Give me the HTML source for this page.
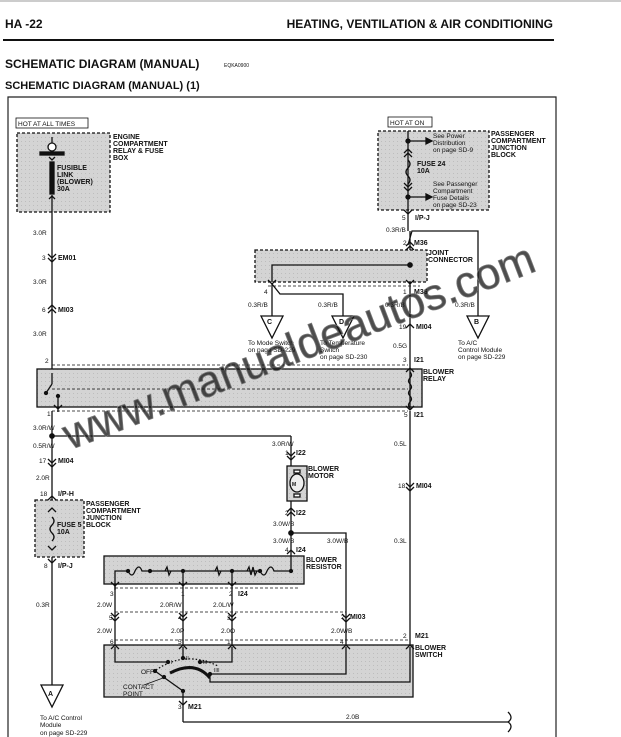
<!DOCTYPE html>
<html><head><meta charset="utf-8"><style>
html,body{margin:0;padding:0;background:#fff;}
svg{display:block;font-family:"Liberation Sans",sans-serif;}
.b{font-weight:bold;}
text{fill:#111;}
</style></head><body>
<svg width="621" height="737" viewBox="0 0 621 737" xmlns="http://www.w3.org/2000/svg">
<defs>
<pattern id="g" width="4" height="4" patternUnits="userSpaceOnUse"><rect width="4" height="4" fill="#d4d4d4"/><rect x="1" y="1" width="1" height="1" fill="#bdbdbd"/></pattern>
</defs>
<!-- header -->
<line x1="0" y1="1" x2="621" y2="1" stroke="#999" stroke-width="1"/>
<text x="5" y="28" font-size="12" class="b">HA -22</text>
<text x="553" y="28" font-size="12" class="b" text-anchor="end">HEATING, VENTILATION &amp; AIR CONDITIONING</text>
<line x1="3" y1="40" x2="554" y2="40" stroke="#111" stroke-width="2"/>
<text x="5" y="68" font-size="12" class="b">SCHEMATIC DIAGRAM (MANUAL)</text>
<text x="224" y="67" font-size="5">EQKA0900</text>
<text x="5" y="89" font-size="11" class="b">SCHEMATIC DIAGRAM (MANUAL) (1)</text>
<!-- frame -->
<polyline points="8,737 8,97 556,97 556,737" fill="none" stroke="#222" stroke-width="1.2"/>

<g stroke="#111" fill="none" stroke-width="1.3">
<!-- Engine box -->
<rect x="17" y="133" width="93" height="79" fill="url(#g)" stroke-dasharray="3,2"/>
<!-- fusible link -->
<line x1="52" y1="137" x2="52" y2="143"/>
<circle cx="52" cy="147" r="4" fill="#fff"/>
<rect x="40" y="152" width="24" height="3" fill="#111"/>
<rect x="50" y="162" width="4" height="32" fill="#111"/>
<polyline points="49,157 52,160 55,157"/>
<polyline points="49,199 52,196 55,199"/>
<!-- left main wire -->
<line x1="52" y1="195" x2="52" y2="372"/>
<polyline points="48,254 52,258 56,254"/><polyline points="48,258 52,262 56,258"/>
<polyline points="48,309 52,305 56,309"/><polyline points="48,313 52,309 56,313"/>
<polyline points="48,375 52,371 56,375"/>
<!-- relay -->
<rect x="37" y="369" width="385" height="38" fill="url(#g)"/>
<line x1="52" y1="365" x2="408" y2="365" stroke-dasharray="3,2" stroke-width="0.8"/>
<line x1="52" y1="389" x2="408" y2="389" stroke-dasharray="3,2" stroke-width="0.8"/>
<line x1="52" y1="411" x2="408" y2="411" stroke-dasharray="3,2" stroke-width="0.8"/>
<line x1="52" y1="373" x2="52" y2="384"/>
<line x1="52" y1="384" x2="46" y2="393"/>
<circle cx="46" cy="393" r="1.5" fill="#111"/>
<circle cx="58" cy="396" r="1.5" fill="#111"/>
<line x1="58" y1="396" x2="58" y2="412"/>
<polyline points="54,405 58,409 62,405"/>
<path d="M410 372 q3 3 0 6 q-3 3 0 6 q3 3 0 6 q-3 3 0 6 q3 3 0 6 q-3 3 0 6" />
<polyline points="406,372 410,368 414,372"/><polyline points="406,406 410,410 414,406"/>
<!-- lower left -->
<line x1="52" y1="411" x2="52" y2="690"/>
<line x1="52" y1="436" x2="291" y2="436"/>
<polyline points="48,459 52,463 56,459"/><polyline points="48,463 52,467 56,463"/>
<rect x="35" y="500" width="49" height="57" fill="url(#g)" stroke-dasharray="3,2"/>
<polyline points="48,500 52,496 56,500"/>
<path d="M52 517 q4 4 0 8 q-4 4 0 8 q4 4 0 8" fill="#d4d4d4"/>
<polyline points="48,512 52,508 56,512"/><polyline points="48,546 52,550 56,546"/>
<polyline points="48,559 52,563 56,559"/>
<polygon points="41,685 63,685 52,707" fill="#fff"/>
<!-- right top -->
<rect x="378" y="131" width="111" height="79" fill="url(#g)" stroke-dasharray="3,2"/>
<line x1="408" y1="131" x2="408" y2="231"/>
<line x1="408" y1="141" x2="426" y2="141"/><polygon points="426,138 432,141 426,144" fill="#111"/>
<line x1="408" y1="197" x2="426" y2="197"/><polygon points="426,194 432,197 426,200" fill="#111"/>
<polyline points="404,153 408,149 412,153"/><polyline points="404,157 408,153 412,157"/>
<path d="M408 160 q4 4 0 8 q-4 4 0 8 q4 4 0 8" />
<polyline points="404,183 408,187 412,183"/><polyline points="404,187 408,191 412,187"/>
<polyline points="404,210 408,214 412,210"/>
<polyline points="408,245 412,231 478,231 478,318"/>
<line x1="410" y1="231" x2="410" y2="410"/>
<polyline points="406,246 410,242 414,246"/><polyline points="406,250 410,246 414,250"/>
<rect x="255" y="250" width="172" height="32" fill="url(#g)" stroke-dasharray="3,2"/>
<polyline points="410,265 272,265 272,282"/>
<polyline points="268,280 272,284 276,280"/>
<polyline points="406,280 410,284 414,280"/>
<line x1="272" y1="284" x2="272" y2="316"/>
<polyline points="272,284 280,294 343,294 343,316"/>
<line x1="268" y1="286" x2="420" y2="286" stroke-dasharray="3,2" stroke-width="0.8"/>
<polygon points="261,316 283,316 272,338" fill="#fff"/>
<polygon points="332,316 354,316 343,338" fill="#fff"/>
<polygon points="467,316 489,316 478,338" fill="#fff"/>
<polyline points="406,328 410,324 414,328"/>
<!-- right down -->
<line x1="410" y1="411" x2="410" y2="647"/>
<polyline points="406,483 410,487 414,483"/><polyline points="406,487 410,491 414,487"/>
<!-- motor -->
<line x1="291" y1="436" x2="291" y2="466"/>
<polyline points="287,452 291,456 295,452"/><polyline points="287,456 291,460 295,456"/>
<rect x="287" y="466" width="20" height="35" fill="url(#g)"/>
<rect x="294" y="470" width="6" height="3" fill="#fff"/><rect x="294" y="494" width="6" height="3" fill="#fff"/>
<ellipse cx="297" cy="483" rx="7" ry="9" fill="#eee"/>
<line x1="291" y1="501" x2="291" y2="556"/>
<polyline points="287,512 291,508 295,512"/><polyline points="287,516 291,512 295,516"/>
<polyline points="291,533 346,533 346,647"/>
<polyline points="287,554 291,550 295,554"/>
<polyline points="342,614 346,618 350,614"/><polyline points="342,618 346,622 350,618"/>
<!-- resistor -->
<rect x="104" y="556" width="200" height="28" fill="url(#g)"/>
<path d="M291 556 L291 571 L274 571 q-3 -8 -7 0 q-3 8 -7 0 L247 571 l2 -4 l2 8 l2 -8 l2 8 l2 -4 L232 571 L215 571 l2 -4 l2 8 l2 -4 L200 571 L183 571 L165 571 l2 -4 l2 8 l2 -4 L150 571 L142 571 q-3 -8 -7 0 q-3 8 -7 0 L115 571 L115 590"/>
<g fill="#111"><circle cx="128" cy="571" r="1.5"/><circle cx="150" cy="571" r="1.5"/><circle cx="183" cy="571" r="1.5"/><circle cx="232" cy="571" r="1.5"/><circle cx="260" cy="571" r="1.5"/><circle cx="291" cy="571" r="1.5"/><circle cx="291" cy="533" r="2.2"/><circle cx="52" cy="436" r="2.2"/><circle cx="408" cy="141" r="2"/><circle cx="408" cy="197" r="2"/><circle cx="410" cy="265" r="2.2"/></g>
<line x1="183" y1="571" x2="183" y2="647"/>
<line x1="232" y1="571" x2="232" y2="647"/>
<line x1="115" y1="584" x2="115" y2="647"/>
<g stroke-width="0.8" stroke-dasharray="3,2"><line x1="115" y1="588" x2="300" y2="588"/><line x1="115" y1="612" x2="346" y2="612"/><line x1="115" y1="640" x2="410" y2="640"/></g>
<polyline points="111,582 115,586 119,582"/><polyline points="179,582 183,586 187,582"/><polyline points="228,582 232,586 236,582"/>
<polyline points="111,613 115,617 119,613"/><polyline points="111,617 115,621 119,617"/>
<polyline points="179,613 183,617 187,613"/><polyline points="179,617 183,621 187,617"/>
<polyline points="228,613 232,617 236,613"/><polyline points="228,617 232,621 236,617"/>
<!-- switch -->
<rect x="104" y="645" width="309" height="52" fill="url(#g)"/>
<polyline points="111,649 115,645 119,649"/><polyline points="179,649 183,645 187,649"/><polyline points="228,649 232,645 236,649"/><polyline points="342,649 346,645 350,649"/><polyline points="406,649 410,645 414,649"/>
<polyline points="115,647 115,662 168,662"/>
<polyline points="183,647 183,658"/>
<polyline points="232,647 232,662 200,662"/>
<polyline points="346,647 346,674 210,674"/>
<polyline points="410,647 410,682 210,682 210,678"/>
<path d="M156 670 Q185 650 218 666" stroke-dasharray="1.5,2"/>
<path d="M170 673 Q195 660 210 678" stroke-width="3"/>
<line x1="155" y1="671" x2="183" y2="691"/>
<line x1="183" y1="691" x2="183" y2="722"/>
<line x1="183" y1="722" x2="508" y2="722"/>
<path d="M508 722 q6 -4 0 -10 M508 722 q6 4 0 10"/>
<polyline points="179,701 183,705 187,701"/>
<g fill="#111"><circle cx="168" cy="662" r="1.5"/><circle cx="183" cy="658" r="1.5"/><circle cx="200" cy="662" r="1.5"/><circle cx="210" cy="674" r="1.5"/><circle cx="155" cy="671" r="1.5"/><circle cx="164" cy="677" r="1.5"/><circle cx="183" cy="691" r="1.5"/></g>
<line x1="144" y1="685" x2="163" y2="678" stroke-width="0.8"/>
<!-- hot boxes -->
<rect x="16" y="118" width="72" height="10" fill="#fff" stroke-width="0.8"/>
<rect x="388" y="117" width="44" height="10" fill="#fff" stroke-width="0.8"/>
</g>

<g font-size="6.5">
<text x="18" y="126">HOT AT ALL TIMES</text>
<text x="390" y="125">HOT AT ON</text>
<g class="b" font-size="7">
<text x="113" y="139">ENGINE</text><text x="113" y="146">COMPARTMENT</text><text x="113" y="153">RELAY &amp; FUSE</text><text x="113" y="160">BOX</text>
<text x="57" y="170">FUSIBLE</text><text x="57" y="177">LINK</text><text x="57" y="184">(BLOWER)</text><text x="57" y="191">30A</text>
<text x="491" y="136">PASSENGER</text><text x="491" y="143">COMPARTMENT</text><text x="491" y="150">JUNCTION</text><text x="491" y="157">BLOCK</text>
<text x="417" y="166">FUSE 24</text><text x="417" y="173">10A</text>
<text x="428" y="255">JOINT</text><text x="428" y="262">CONNECTOR</text>
<text x="423" y="374">BLOWER</text><text x="423" y="381">RELAY</text>
<text x="308" y="471">BLOWER</text><text x="308" y="478">MOTOR</text>
<text x="306" y="562">BLOWER</text><text x="306" y="569">RESISTOR</text>
<text x="415" y="650">BLOWER</text><text x="415" y="657">SWITCH</text>
<text x="86" y="506">PASSENGER</text><text x="86" y="513">COMPARTMENT</text><text x="86" y="520">JUNCTION</text><text x="86" y="527">BLOCK</text>
<text x="57" y="527">FUSE 5</text><text x="57" y="534">10A</text>
<text x="58" y="260">EM01</text><text x="58" y="312">MI03</text>
<text x="58" y="463">MI04</text><text x="58" y="496">I/P-H</text><text x="58" y="568">I/P-J</text>
<text x="415" y="220">I/P-J</text><text x="414" y="245">M36</text><text x="414" y="294">M36</text><text x="416" y="329">MI04</text>
<text x="414" y="362">I21</text><text x="414" y="417">I21</text><text x="416" y="488">MI04</text>
<text x="296" y="455">I22</text><text x="296" y="515">I22</text><text x="296" y="552">I24</text>
<text x="238" y="596">I24</text><text x="350" y="619">MI03</text><text x="415" y="638">M21</text><text x="188" y="709">M21</text>
<text x="267" y="324" font-size="7">C</text><text x="339" y="324" font-size="7">D</text><text x="474" y="324" font-size="7">B</text><text x="48" y="696" font-size="7">A</text>
<text x="292" y="486" font-size="5">M</text>
</g>
<text x="33" y="235">3.0R</text><text x="42" y="260">3</text><text x="33" y="284">3.0R</text><text x="42" y="312">6</text><text x="33" y="336">3.0R</text><text x="45" y="363">2</text>
<text x="47" y="416">1</text><text x="33" y="430">3.0R/W</text><text x="33" y="448">0.5R/W</text><text x="39" y="463">17</text><text x="36" y="480">2.0R</text><text x="40" y="496">18</text><text x="44" y="568">8</text><text x="36" y="607">0.3R</text>
<text x="40" y="720">To A/C Control</text><text x="40" y="727">Module</text><text x="40" y="735">on page SD-229</text>
<text x="433" y="138">See Power</text><text x="433" y="145">Distribution</text><text x="433" y="152">on page SD-9</text>
<text x="433" y="186">See Passenger</text><text x="433" y="193">Compartment</text><text x="433" y="200">Fuse Details</text><text x="433" y="207">on page SD-23</text>
<text x="402" y="220">5</text><text x="386" y="232">0.3R/B</text><text x="403" y="245">2</text>
<text x="264" y="294">4</text><text x="403" y="294">1</text>
<text x="248" y="307">0.3R/B</text><text x="318" y="307">0.3R/B</text><text x="385" y="307">0.3R/B</text><text x="455" y="307">0.3R/B</text>
<text x="399" y="329">19</text><text x="393" y="348">0.5G</text><text x="403" y="362">3</text><text x="404" y="417">5</text>
<text x="248" y="345">To Mode Switch</text><text x="248" y="352">on page SD-229</text>
<text x="320" y="345">To Temperature</text><text x="320" y="352">Switch</text><text x="320" y="359">on page SD-230</text>
<text x="458" y="345">To A/C</text><text x="458" y="352">Control Module</text><text x="458" y="359">on page SD-229</text>
<text x="394" y="446">0.5L</text><text x="398" y="488">18</text><text x="394" y="543">0.3L</text><text x="403" y="638">2</text>
<text x="272" y="446">3.0R/W</text><text x="285" y="455">1</text><text x="285" y="515">2</text>
<text x="273" y="526">3.0W/B</text><text x="273" y="543">3.0W/B</text><text x="327" y="543">3.0W/B</text><text x="285" y="552">4</text>
<text x="110" y="596">3</text><text x="181" y="596">1</text><text x="229" y="596">2</text>
<text x="97" y="607">2.0W</text><text x="160" y="607">2.0R/W</text><text x="213" y="607">2.0L/W</text>
<text x="109" y="620">5</text><text x="178" y="620">4</text><text x="227" y="620">3</text><text x="341" y="619">2</text>
<text x="97" y="633">2.0W</text><text x="171" y="633">2.0P</text><text x="221" y="633">2.0O</text><text x="331" y="633">2.0W/B</text>
<text x="110" y="644">6</text><text x="178" y="644">5</text><text x="227" y="644">1</text><text x="340" y="644">4</text>
<text x="171" y="664" font-size="5">I</text><text x="186" y="660" font-size="5">II</text><text x="203" y="664" font-size="5">III</text><text x="214" y="672" font-size="5">IIII</text>
<text x="141" y="674">OFF</text><text x="123" y="689">CONTACT</text><text x="123" y="696">POINT</text>
<text x="178" y="709">3</text><text x="346" y="719">2.0B</text>
</g>
<!-- watermark -->
<text x="70" y="450" font-size="44" fill="#c8c8c8" fill-opacity="0.75" stroke="#777" stroke-width="0.8" transform="rotate(-21 70 450)" font-family="Liberation Sans, sans-serif">www.manualdeautos.com</text>
</svg>
</body></html>
